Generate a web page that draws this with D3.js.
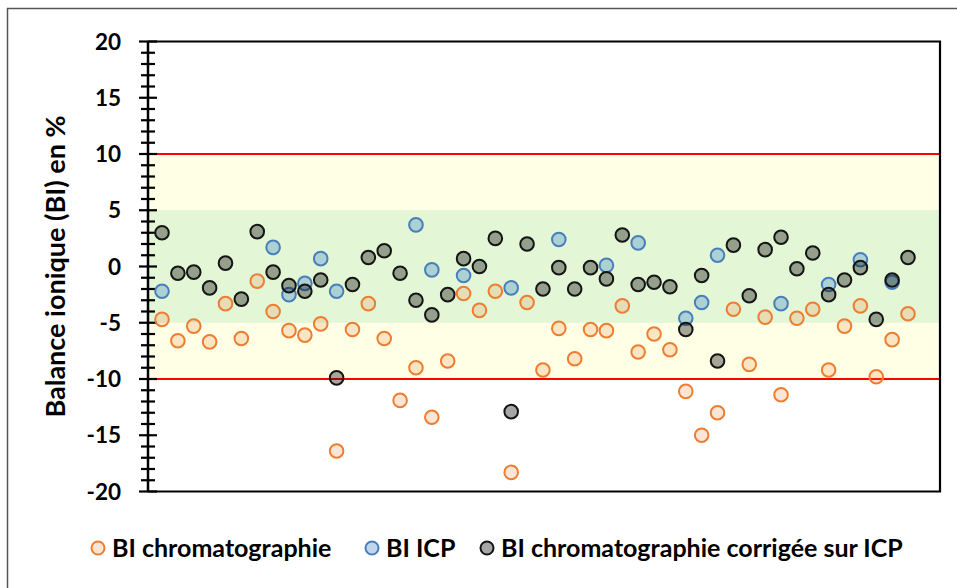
<!DOCTYPE html>
<html>
<head>
<meta charset="utf-8">
<script src="https://cdn.jsdelivr.net/npm/d3@7"></script>
<style>
  body { margin: 0; background: #fff; }
  svg text { font-family: Lato, "Open Sans", sans-serif; font-weight: 700; fill: #000; }
</style>
</head>
<body>
<div id="chart"></div>
<script>
// values, one per sample (48 samples)
var bi_chromato = [-4.7,-6.6,-5.3,-6.7,-3.3,-6.4,-1.3,-4.0,-5.7,-6.1,-5.1,-16.4,-5.6,-3.3,-6.4,-11.9,
  -9.0,-13.4,-8.4,-2.4,-3.9,-2.2,-18.3,-3.2,-9.2,-5.5,-8.2,-5.6,-5.7,-3.5,-7.6,-6.0,
  -7.4,-11.1,-15.0,-13.0,-3.8,-8.7,-4.5,-11.4,-4.6,-3.8,-9.2,-5.3,-3.5,-9.8,-6.5,-4.2]
var bi_icp = [-2.2,null,null,null,null,null,null,1.7,-2.5,-1.5,0.7,-2.2,null,null,null,null,
  3.7,-0.3,null,-0.8,null,null,-1.9,null,null,2.4,null,null,0.1,null,2.1,null,
  null,-4.6,-3.2,1.0,null,null,null,-3.3,null,null,-1.6,null,0.6,null,-1.4,null]
var bi_corrige = [3.0,-0.6,-0.5,-1.9,0.3,-2.9,3.1,-0.5,-1.7,-2.2,-1.2,-9.9,-1.6,0.8,1.4,-0.6,
  -3.0,-4.3,-2.5,0.7,0.0,2.5,-12.9,2.0,-2.0,-0.1,-2.0,-0.1,-1.1,2.8,-1.6,-1.4,
  -1.8,-5.6,-0.8,-8.4,1.9,-2.6,1.5,2.6,-0.2,1.2,-2.5,-1.2,-0.1,-4.7,-1.2,0.8]

var y_ticks = [-20,-15,-10,-5,0,5,10,15,20]
var legend_labels = ["BI chromatographie", "BI ICP", "BI chromatographie corrigée sur ICP"]

var width = 957, height = 588
var p_left = 148, p_right = 940, p_top = 41.5, p_bottom = 491.5

var svg = d3.select("#chart").append("svg")
    .attr("width", width)
    .attr("height", height)

// outer frame (only top and left visible)
svg.append("path")
    .attr("d", "M7.5,588 V8.5 H957")
    .attr("fill", "none")
    .attr("stroke", "#555")
    .attr("stroke-width", 1.5)

var x = d3.scalePoint().domain(d3.range(bi_chromato.length)).range([162, 908])
var y = d3.scaleLinear().domain([-20, 20]).range([p_bottom, p_top])

// bands
svg.append("rect")
    .attr("x", p_left).attr("width", p_right - p_left)
    .attr("y", y(10)).attr("height", y(-10) - y(10))
    .attr("fill", "#FFFFE6")
svg.append("rect")
    .attr("x", p_left).attr("width", p_right - p_left)
    .attr("y", y(5)).attr("height", y(-5) - y(5))
    .attr("fill", "#E3F6D6")

// red limits
svg.selectAll(".limit")
    .data([10, -10]).enter()
    .append("line")
    .attr("class", "limit")
    .attr("x1", p_left).attr("x2", p_right)
    .attr("y1", y).attr("y2", y)
    .attr("stroke", "#FF0000")
    .attr("stroke-width", 2)

// plot box
svg.append("path")
    .attr("d", "M" + p_left + "," + p_top + " H" + p_right + " V" + p_bottom + " H" + p_left)
    .attr("fill", "none")
    .attr("stroke", "#000")
    .attr("stroke-width", 2.2)

// y axis with ticks crossing the line
var gy = svg.append("g")
gy.append("line")
    .attr("x1", p_left).attr("x2", p_left)
    .attr("y1", y(20)).attr("y2", y(-20))
    .attr("stroke", "#000").attr("stroke-width", 2.5)
gy.selectAll(".tk")
    .data(d3.range(-20, 21)).enter()
    .append("line")
    .attr("x1", function(d) { return d % 5 == 0 ? p_left - 9 : p_left - 7 })
    .attr("x2", function(d) { return d % 5 == 0 ? p_left + 9 : p_left + 7 })
    .attr("y1", y).attr("y2", y)
    .attr("stroke", "#000").attr("stroke-width", 2.2)
gy.selectAll(".lab")
    .data(y_ticks).enter()
    .append("text")
    .attr("x", 121)
    .attr("y", y)
    .attr("dy", "0.36em")
    .attr("text-anchor", "end")
    .style("font-size", "22.5px")
    .text(function(d) { return d })

svg.append("text")
    .attr("transform", "translate(65," + ((p_top + p_bottom) / 2) + ") rotate(-90)")
    .attr("text-anchor", "middle")
    .style("font-size", "27px")
    .text("Balance ionique (BI) en %")

// series
var series = [
  { values: bi_chromato, stroke: "#ED7D31", fill: "rgba(237,125,49,0.2)" },
  { values: bi_icp, stroke: "#4A7EBB", fill: "rgba(91,155,213,0.4)" },
  { values: bi_corrige, stroke: "#141414", fill: "rgba(0,0,0,0.35)" }
]

series.forEach(function(s) {
  svg.append("g").selectAll("circle")
    .data(s.values.map(function(v, i) { return { i: i, v: v } }).filter(function(d) { return d.v != null }))
    .enter()
    .append("circle")
    .attr("cx", function(d) { return x(d.i) })
    .attr("cy", function(d) { return y(d.v) })
    .attr("r", 6.8)
    .attr("fill", s.fill)
    .attr("stroke", s.stroke)
    .attr("stroke-width", 2)
})

// legend
var leg_x = [98, 372, 487]
var leg = svg.append("g")
legend_labels.forEach(function(t, i) {
  leg.append("circle")
    .attr("cx", leg_x[i]).attr("cy", 548)
    .attr("r", 6.5)
    .attr("fill", series[i].fill)
    .attr("stroke", series[i].stroke)
    .attr("stroke-width", 2)
  leg.append("text")
    .attr("x", leg_x[i] + 14)
    .attr("y", 548)
    .attr("dy", "0.36em")
    .style("font-size", "25px")
    .text(t)
})
</script>
</body>
</html>
